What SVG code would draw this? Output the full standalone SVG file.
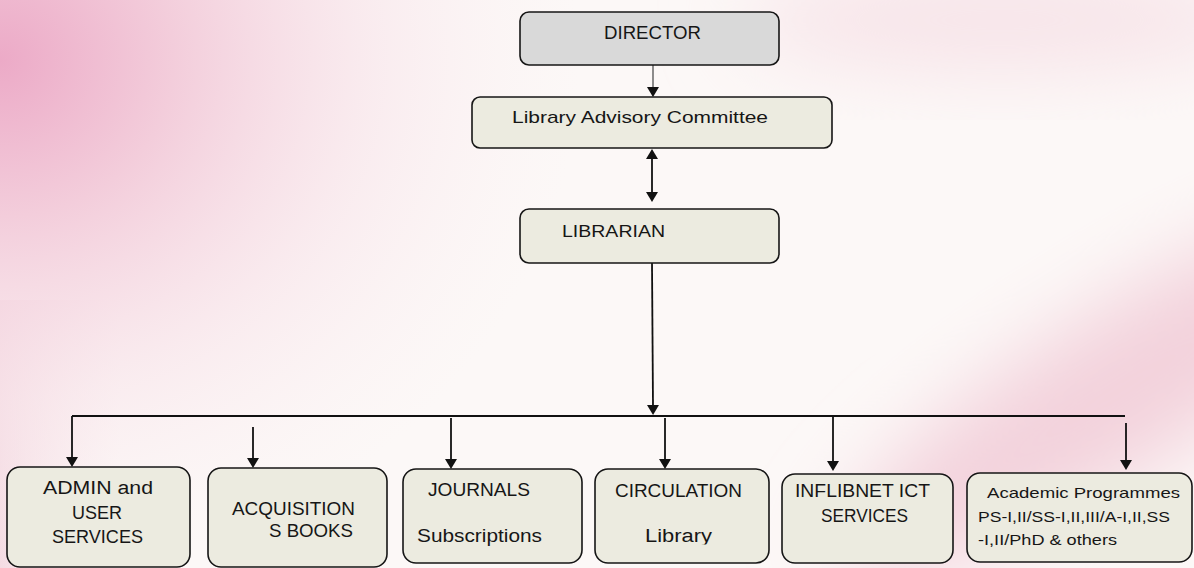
<svg xmlns="http://www.w3.org/2000/svg" width="1194" height="568" viewBox="0 0 1194 568">
  <defs>
    <style>
      .box { fill: #ecebe0; stroke: #161616; stroke-width: 1.6; }
      .boss { fill: #d9d9d9; stroke: #161616; stroke-width: 1.6; }
      .lbl { font-family: "Liberation Sans", Arial, sans-serif; fill: #161616; }
      .wire { stroke: #111; stroke-width: 1.8; fill: none; }
    </style>
    <radialGradient id="pinkCorner" cx="0" cy="60" r="580" gradientUnits="userSpaceOnUse" gradientTransform="translate(0 60) scale(1 0.9) translate(0 -60)">
      <stop offset="0" stop-color="#ecaac7"/>
      <stop offset="0.3" stop-color="#f3cddb"/>
      <stop offset="0.65" stop-color="#f8e4ea" stop-opacity="0.6"/>
      <stop offset="1" stop-color="#fbf0f2" stop-opacity="0"/>
    </radialGradient>
    <linearGradient id="pinkLeft" x1="0" y1="0" x2="1" y2="0">
      <stop offset="0" stop-color="#f2d3dd"/>
      <stop offset="1" stop-color="#f7e6ea" stop-opacity="0"/>
    </linearGradient>
    <filter id="soft" x="-50%" y="-50%" width="200%" height="200%">
      <feGaussianBlur stdDeviation="40"/>
    </filter>
    <marker id="head" viewBox="0 0 10 12" markerUnits="userSpaceOnUse" markerWidth="10" markerHeight="12" refX="2" refY="6" orient="auto-start-reverse">
      <path d="M0,0 L10,6 L0,12 z" fill="#111"/>
    </marker>
  </defs>

  <!-- soft pink backdrop -->
  <g id="backdrop">
    <rect width="1194" height="568" fill="#fcf8f7"/>
    <rect x="0" y="300" width="120" height="268" fill="url(#pinkLeft)" opacity="0.8"/>
    <rect width="1194" height="568" fill="url(#pinkCorner)"/>
    <ellipse cx="1120" cy="390" rx="330" ry="80" fill="#f3d2dc" transform="rotate(-32 1120 390)" filter="url(#soft)"/>
    <ellipse cx="1000" cy="20" rx="260" ry="50" fill="#f7e3e8" filter="url(#soft)"/>
  </g>

  <!-- connectors -->
  <g id="connectors">
    <line x1="653" y1="65" x2="653" y2="89" stroke="#707070" stroke-width="1.6"/>
    <line x1="653" y1="89" x2="653" y2="89.1" class="wire" marker-end="url(#head)"/>
    <line x1="652" y1="157" x2="652" y2="194" class="wire" marker-start="url(#head)" marker-end="url(#head)"/>
    <line x1="652" y1="263" x2="653" y2="407" class="wire" marker-end="url(#head)"/>
    <line x1="72" y1="416" x2="1125" y2="416" class="wire"/>
    <line x1="72" y1="416" x2="72" y2="459" class="wire" marker-end="url(#head)"/>
    <line x1="253" y1="427" x2="253" y2="460" class="wire" marker-end="url(#head)"/>
    <line x1="451" y1="418" x2="451" y2="461" class="wire" marker-end="url(#head)"/>
    <line x1="665" y1="418" x2="665" y2="461" class="wire" marker-end="url(#head)"/>
    <line x1="833" y1="416" x2="833" y2="463" class="wire" marker-end="url(#head)"/>
    <line x1="1126" y1="423" x2="1126" y2="462" class="wire" marker-end="url(#head)"/>
  </g>

  <g id="director">
    <rect class="boss" x="520" y="12" width="259" height="53" rx="9"/>
    <text class="lbl" x="604" y="39" font-size="18" textLength="97" lengthAdjust="spacingAndGlyphs">DIRECTOR</text>
  </g>

  <g id="advisory-committee">
    <rect class="box" x="472" y="97" width="360" height="51" rx="8"/>
    <text class="lbl" x="512" y="123" font-size="17" textLength="256" lengthAdjust="spacingAndGlyphs">Library Advisory Committee</text>
  </g>

  <g id="librarian">
    <rect class="box" x="520" y="209" width="259" height="54" rx="9"/>
    <text class="lbl" x="562" y="237" font-size="17" textLength="103" lengthAdjust="spacingAndGlyphs">LIBRARIAN</text>
  </g>

  <g id="admin-user-services">
    <rect class="box" x="7" y="467" width="183" height="100" rx="13"/>
    <text class="lbl" x="43" y="494" font-size="18" textLength="110" lengthAdjust="spacingAndGlyphs">ADMIN and</text>
    <text class="lbl" x="72" y="519" font-size="18" textLength="50" lengthAdjust="spacingAndGlyphs">USER</text>
    <text class="lbl" x="52" y="543" font-size="18" textLength="91" lengthAdjust="spacingAndGlyphs">SERVICES</text>
  </g>

  <g id="acquisitions-books">
    <rect class="box" x="208" y="468" width="179" height="99" rx="13"/>
    <text class="lbl" x="232" y="515" font-size="17.5" textLength="123" lengthAdjust="spacingAndGlyphs">ACQUISITION</text>
    <text class="lbl" x="269" y="537" font-size="17.5" textLength="84" lengthAdjust="spacingAndGlyphs">S BOOKS</text>
  </g>

  <g id="journals">
    <rect class="box" x="403" y="469" width="179" height="94" rx="13"/>
    <text class="lbl" x="428" y="496" font-size="18" textLength="102" lengthAdjust="spacingAndGlyphs">JOURNALS</text>
    <text class="lbl" x="417" y="542" font-size="18" textLength="125" lengthAdjust="spacingAndGlyphs">Subscriptions</text>
  </g>

  <g id="circulation">
    <rect class="box" x="595" y="469" width="174" height="94" rx="13"/>
    <text class="lbl" x="615" y="497" font-size="18" textLength="127" lengthAdjust="spacingAndGlyphs">CIRCULATION</text>
    <clipPath id="libClip"><rect x="600" y="520" width="160" height="24.5"/></clipPath>
    <text class="lbl" x="645" y="542" font-size="18" textLength="67" lengthAdjust="spacingAndGlyphs" clip-path="url(#libClip)">Library</text>
  </g>

  <g id="inflibnet-ict">
    <rect class="box" x="782" y="474" width="171" height="89" rx="13"/>
    <text class="lbl" x="795" y="497" font-size="17.5" textLength="135" lengthAdjust="spacingAndGlyphs">INFLIBNET ICT</text>
    <text class="lbl" x="821" y="522" font-size="17.5" textLength="87" lengthAdjust="spacingAndGlyphs">SERVICES</text>
  </g>

  <g id="academic-programmes">
    <rect class="box" x="967" y="473" width="225" height="89" rx="13"/>
    <text class="lbl" x="987" y="498" font-size="15" textLength="193" lengthAdjust="spacingAndGlyphs">Academic Programmes</text>
    <text class="lbl" x="978" y="522" font-size="15" textLength="192" lengthAdjust="spacingAndGlyphs">PS-I,II/SS-I,II,III/A-I,II,SS</text>
    <text class="lbl" x="978" y="545" font-size="15" textLength="139" lengthAdjust="spacingAndGlyphs">-I,II/PhD &amp; others</text>
  </g>
</svg>
